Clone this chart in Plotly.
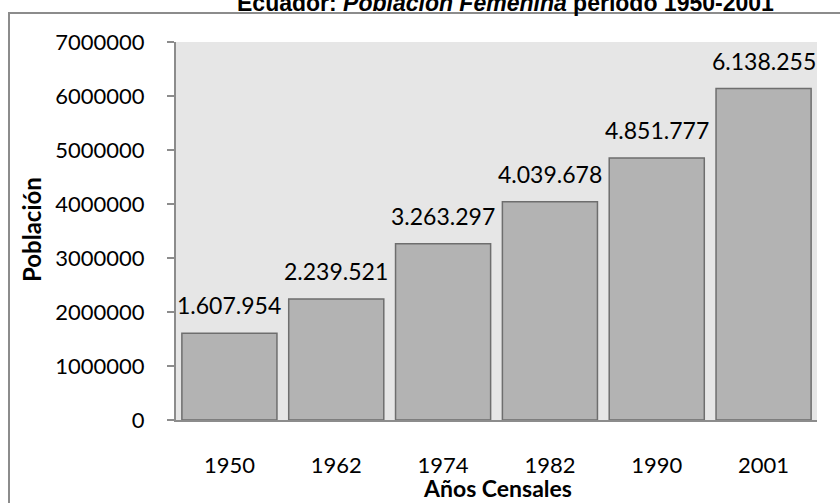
import plotly.graph_objects as go

years = ["1950", "1962", "1974", "1982", "1990", "2001"]
population = [1607954, 2239521, 3263297, 4039678, 4851777, 6138255]
labels = ["1.607.954", "2.239.521", "3.263.297", "4.039.678", "4.851.777", "6.138.255"]
y_ticks = [0, 1000000, 2000000, 3000000, 4000000, 5000000, 6000000, 7000000]

FONT = "Lato"
W, H = 840, 503
ML, MR, MT, MB = 176, 23, 42, 83
PW, PH = W - ML - MR, H - MT - MB

def px_x(px):
    return (px - ML) / PW

def px_y(py):
    return (H - MB - py) / PH

fig = go.Figure()
fig.add_trace(go.Bar(
    x=years, y=population,
    marker=dict(color="#b3b3b3", line=dict(color="#6e6e6e", width=1.5)),
    hoverinfo="skip",
))

annotations = []
for i, (val, lab) in enumerate(zip(population, labels)):
    annotations.append(dict(
        x=i, y=val, xref="x", yref="y", text=lab, showarrow=False,
        xanchor="center", yanchor="bottom", yshift=12,
        font=dict(family=FONT, size=23, color="#000000"),
    ))

annotations.append(dict(
    x=px_x(505), y=px_y(18), xref="paper", yref="paper",
    xanchor="center", yanchor="bottom",
    text="<b>Ecuador: <i>Población Femenina</i> período 1950-2001</b>",
    showarrow=False, font=dict(family="Liberation Sans", size=23, color="#000000"),
))
annotations.append(dict(
    x=px_x(31), y=px_y(230), xref="paper", yref="paper", text="<b>Población</b>",
    xanchor="center", yanchor="middle",
    textangle=-90, showarrow=False, font=dict(family=FONT, size=24, color="#000000"),
))
annotations.append(dict(
    x=px_x(497), y=px_y(488), xref="paper", yref="paper", text="<b>Años Censales</b>",
    xanchor="center", yanchor="middle",
    showarrow=False, font=dict(family=FONT, size=23, color="#000000"),
))

fig.update_layout(
    width=W, height=H,
    margin=dict(l=ML, r=MR, t=MT, b=MB, pad=0, autoexpand=False),
    paper_bgcolor="#ffffff", plot_bgcolor="#e6e6e6",
    bargap=0.11, showlegend=False,
    annotations=annotations,
    shapes=[dict(
        type="rect", xref="paper", yref="paper",
        x0=px_x(9), x1=px_x(900), y0=px_y(600), y1=px_y(13),
        line=dict(color="#8c8c8c", width=2), fillcolor="rgba(0,0,0,0)", layer="below",
    )],
    xaxis=dict(
        type="category", automargin=False, range=[-0.5, len(years) - 0.5],
        showgrid=False, showline=True, linecolor="#8c8c8c", linewidth=2,
        ticks="", ticklabelstandoff=25,
        tickfont=dict(family=FONT, size=22, color="#000000"),
    ),
    yaxis=dict(
        range=[0, 7000000], tickvals=y_ticks, tickformat="d", automargin=False,
        showgrid=False, zeroline=False, showline=True, linecolor="#8c8c8c", linewidth=2,
        ticks="outside", ticklen=7, tickcolor="#8c8c8c", tickwidth=2,
        ticklabelstandoff=18,
        tickfont=dict(family=FONT, size=22, color="#000000"),
    ),
)

fig.write_html("out.html", config={"displayModeBar": False},
               post_script="document.body.style.margin='0';")
